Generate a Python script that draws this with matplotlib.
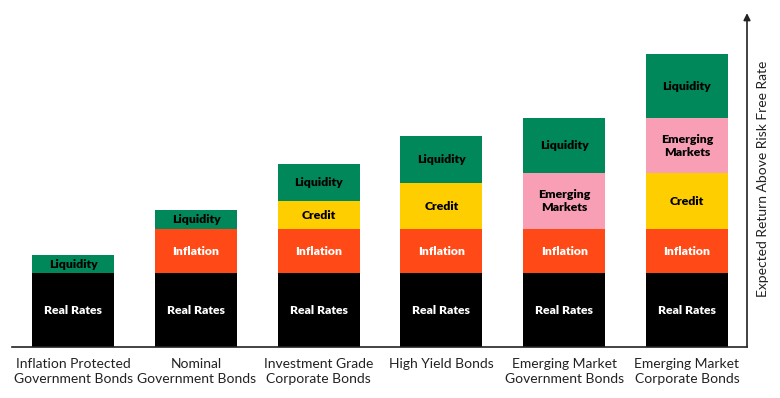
import matplotlib.pyplot as plt
import numpy as np

plt.rcParams['font.family'] = ['Lato', 'DejaVu Sans']

categories = ["Inflation Protected\nGovernment Bonds", "Nominal\nGovernment Bonds",
              "Investment Grade\nCorporate Bonds", "High Yield Bonds",
              "Emerging Market\nGovernment Bonds", "Emerging Market\nCorporate Bonds"]

# segment heights (arbitrary units)
real_rates = [74, 74, 74, 74, 74, 74]
inflation = [0, 44, 44, 44, 44, 44]
credit = [0, 0, 28, 46, 0, 56]
emerging = [0, 0, 0, 0, 56, 55]
liquidity = [18, 19, 37, 47, 55, 64]

layers = [
    ("Real Rates", real_rates, "#000000", "white"),
    ("Inflation", inflation, "#FF4A17", "white"),
    ("Credit", credit, "#FFCE00", "black"),
    ("Emerging\nMarkets", emerging, "#F99FB5", "black"),
    ("Liquidity", liquidity, "#00875A", "black"),
]

fig = plt.figure(figsize=(7.8, 3.98), dpi=100)
ax = fig.add_axes([0.0154, 0.128, 0.9423, 0.839])

x = np.arange(len(categories))
bottom = np.zeros(len(categories))
for name, vals, color, tcol in layers:
    vals = np.array(vals, dtype=float)
    ax.bar(x, vals, width=0.668, bottom=bottom, color=color, linewidth=0)
    for i, v in enumerate(vals):
        if v > 0:
            ax.text(x[i], bottom[i] + v / 2, name, ha='center', va='center',
                    color=tcol, fontsize=8.8, fontweight='heavy', linespacing=1.2)
    bottom += vals

ax.set_xlim(-0.5, 5.49)
ax.set_ylim(0, 334)
for s in ['top', 'right', 'left']:
    ax.spines[s].set_visible(False)
ax.spines['bottom'].set_color('#222222')
ax.spines['bottom'].set_linewidth(1.2)
ax.set_yticks([])
ax.set_xticks(x)
ax.set_xticklabels(categories, fontsize=10, color='#222222', linespacing=1.25)
ax.tick_params(axis='x', length=0, pad=8)

# vertical arrow on the right
ax.annotate('', xy=(1, 1), xytext=(1, 0), xycoords='axes fraction',
            arrowprops=dict(arrowstyle='-|>', color='#222222', lw=1.2,
                            mutation_scale=10, shrinkA=0, shrinkB=0))
ax.text(1.022, 0.505, "Expected Return Above Risk Free Rate", transform=ax.transAxes,
        rotation=90, ha='center', va='center', fontsize=10, color='#222222')

plt.savefig("out.png", dpi=100)
